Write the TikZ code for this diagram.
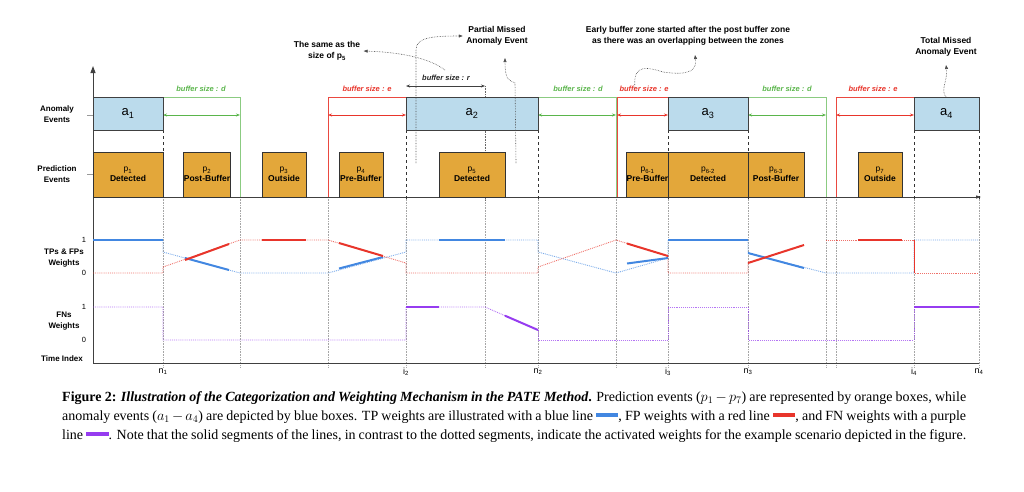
\documentclass[tikz,border=0pt]{standalone}
\usepackage{fontspec}
\setmainfont{Liberation Serif}
\newfontfamily\hv{Liberation Sans}
\usetikzlibrary{arrows.meta}
\definecolor{abox}{RGB}{187,219,236}
\definecolor{pbox}{RGB}{227,167,58}
\definecolor{tpc}{RGB}{66,135,225}
\definecolor{fpc}{RGB}{232,53,43}
\definecolor{fnc}{RGB}{150,60,240}
\definecolor{grn}{RGB}{90,181,75}
\newcommand{\sbs}[1]{\textsubscript{#1}}
\begin{document}
\begin{tikzpicture}[x=1pt,y=-1pt,
 an/.style={draw=black!75,line width=0.9pt,fill=abox,font=\hv\fontsize{13}{14}\selectfont},
 pr/.style={draw=black!80,line width=0.9pt,fill=pbox,font=\hv\bfseries\fontsize{8.5}{10}\selectfont,align=center},
 lab/.style={font=\hv\bfseries\fontsize{8}{11}\selectfont,align=center},
 note/.style={font=\hv\bfseries\fontsize{8.5}{11.5}\selectfont,align=center},
 buf/.style={font=\hv\bfseries\itshape\fontsize{7.5}{8}\selectfont},
 grid/.style={gray!70,densely dotted,line width=0.6pt},
 dsh/.style={black!80,dashed,line width=0.9pt},
 act/.style={line width=2pt},
 ina/.style={densely dotted,line width=0.9pt,opacity=0.7},
 dar/.style={densely dotted,black!70,line width=0.6pt,-{Triangle[length=4pt,width=3pt]}}]
\useasboundingbox (0,0) rectangle (1024,491);
% grid lines
\foreach \x in {163,240,328,406,485,538,616,668,748,826,836,914,979}
  \draw[grid] (\x,197) -- (\x,368);
% axes
\draw[black!75,line width=1pt,-{Triangle[length=7pt,width=5pt]}] (93,363) -- (93,66);
\draw[black!75,line width=1pt] (93,363) -- (979,363);
\draw[black!75,line width=1pt,-{Triangle[length=5pt,width=3pt]}] (93,197) -- (981,197);
% dashed verticals
\foreach \x/\a/\b in {163/130/152,406/130/200,538/130/200,668/130/200,748/130/200,914/130/200,979/130/200}
  \draw[dsh] (\x,\a) -- (\x,\b);
\draw[black!60,densely dotted,line width=0.6pt] (485,86) -- (485,200);
% buffer zones
\draw[grn!70,line width=0.8pt] (163,97) -- (240,97) -- (240,197);
\draw[grn!70,line width=0.8pt] (538,97) -- (616,97) -- (616,197);
\draw[grn!70,line width=0.8pt] (748,97) -- (826,97) -- (826,197);
\draw[fpc!90,line width=0.8pt] (406,97) -- (328,97) -- (328,197);
\draw[fpc!90,line width=0.8pt] (668,97) -- (617,97) -- (617,197);
\draw[fpc!90,line width=0.8pt] (914,97) -- (836,97) -- (836,197);
\foreach \a/\b in {163/240,538/616,748/826}
  \draw[grn,line width=0.9pt,{Stealth[length=4pt]}-{Stealth[length=4pt]}] (\a,115) -- (\b,115);
\foreach \a/\b in {328/406,617/668,836/914}
  \draw[fpc,line width=0.9pt,{Stealth[length=4pt]}-{Stealth[length=4pt]}] (\a,115) -- (\b,115);
\draw[black!75,line width=0.9pt,{Stealth[length=4pt]}-{Stealth[length=4pt]}] (406,86) -- (485,86);
\node[buf,text=grn] (bd1) at (201,89) {buffer size : d};
\node[buf,text=fpc] (be1) at (367,89) {buffer size : e};
\node[buf,text=black!85] (br) at (446,78) {buffer size : r};
\node[buf,text=grn] (bd2) at (578,89) {buffer size : d};
\node[buf,text=fpc] (be2) at (644,89) {buffer size : e};
\node[buf,text=grn] (bd3) at (787,89) {buffer size : d};
\node[buf,text=fpc] (be3) at (873,89) {buffer size : e};
% anomaly boxes
\node[an,minimum width=70pt,minimum height=33pt] (a1) at (128,113.5) {a\sbs{1}};
\node[an,minimum width=132pt,minimum height=33pt] (a2) at (472,113.5) {a\sbs{2}};
\node[an,minimum width=80pt,minimum height=33pt] (a3) at (708,113.5) {a\sbs{3}};
\node[an,minimum width=65pt,minimum height=33pt] (a4) at (946.5,113.5) {a\sbs{4}};
% prediction boxes
\node[pr,minimum width=70pt,minimum height=45pt] (p1) at (128,174.5) {{\mdseries p\sbs{1}}\\Detected};
\node[pr,minimum width=44pt,minimum height=45pt,inner sep=0pt] (p2) at (207,174.5) {{\mdseries p\sbs{2}}\\Post-Buffer};
\node[pr,minimum width=44pt,minimum height=45pt] (p3) at (284,174.5) {{\mdseries p\sbs{3}}\\Outside};
\node[pr,minimum width=44pt,minimum height=45pt,inner sep=0pt] (p4) at (361,174.5) {{\mdseries p\sbs{4}}\\Pre-Buffer};
\node[pr,minimum width=66pt,minimum height=45pt] (p5) at (472,174.5) {{\mdseries p\sbs{5}}\\Detected};
\node[pr,minimum width=41pt,minimum height=45pt,inner sep=0pt] (p61) at (647.5,174.5) {{\mdseries p\sbs{6-1}}\\Pre-Buffer};
\node[pr,minimum width=80pt,minimum height=45pt] (p62) at (708,174.5) {{\mdseries p\sbs{6-2}}\\Detected};
\node[pr,minimum width=56pt,minimum height=45pt,inner sep=0pt] (p63) at (776,174.5) {{\mdseries p\sbs{6-3}}\\Post-Buffer};
\node[pr,minimum width=44pt,minimum height=45pt] (p7) at (880,174.5) {{\mdseries p\sbs{7}}\\Outside};
% left labels
\node[lab] (lae) at (57,114) {Anomaly\\Events};
\node[lab] (lpe) at (57,174) {Prediction\\Events};
\node[lab] (ltp) at (64,258) {TPs \& FPs\\Weights};
\node[lab] (lfn) at (64,321) {FNs\\Weights};
\node[lab] (lti) at (62,359) {Time Index};
\draw[black!40] (87,115) -- (93,115) (87,174) -- (93,174);
\foreach \y/\t in {240/1,273/0,307/1,340/0}
  \node[font=\hv\fontsize{7.5}{8}\selectfont] (t\y) at (84,\y) {\t};
% time labels
\foreach \x/\l/\s in {163/n/1,406/i/2,538/n/2,668/i/3,748/n/3,914/i/4,979/n/4}
  \node[font=\hv\fontsize{9}{10}\selectfont] at (\x,372) {\l\sbs{\s}};
% TP blue
\draw[tpc,ina] (163,240) -- (163,252) -- (240,273) -- (328,273) -- (406,252) -- (406,240) -- (538,240) -- (538,252) -- (616,273) -- (668,258) -- (668,240);
\draw[tpc,ina] (748,240) -- (748,253) -- (826,273) -- (914,273) -- (914,240) -- (979,240);
\draw[tpc,act] (93,240) -- (163,240);
\draw[tpc,act] (185,258) -- (229,270);
\draw[tpc,act] (339,268.5) -- (383,257);
\draw[tpc,act] (439,240) -- (505,240);
\draw[tpc,act] (627,263.5) -- (668,258);
\draw[tpc,act] (668,240) -- (748,240);
\draw[tpc,act] (748,253) -- (804,268);
% FP red
\draw[fpc,ina] (93,273) -- (163,273) -- (163,267) -- (240,240) -- (328,240) -- (406,263) -- (406,273) -- (538,273) -- (538,267) -- (616,240) -- (668,256) -- (668,273) -- (748,273) -- (748,263);
\draw[fpc,ina] (826,240) -- (914,240) -- (914,273) -- (979,273);
\draw[fpc,act] (185,260) -- (229,244);
\draw[fpc,act] (262,240) -- (306,240);
\draw[fpc,act] (339,243) -- (383,256);
\draw[fpc,act] (627,243.5) -- (668,256);
\draw[fpc,act] (748,263) -- (804,245);
\draw[fpc,act] (858,240) -- (902,240);
\draw[fpc,line width=1pt] (914,240) -- (914,273);
% FN purple
\draw[fnc,ina] (93,307) -- (163,307) -- (163,340) -- (406,340) -- (406,307) -- (485,307) -- (505,315.7);
\draw[fnc,ina] (538,330) -- (538,340) -- (668,340) -- (668,307) -- (748,307) -- (748,340) -- (914,340) -- (914,307);
\draw[fnc,act] (406,307) -- (439,307);
\draw[fnc,act] (505,315.7) -- (538,330);
\draw[fnc,act] (914,307) -- (979,307);
% annotations
\node[note] (n5) at (327,51) {The same as the\\size of p\sbs{5}};
\node[note] (npm) at (497,36) {Partial Missed\\Anomaly Event};
\node[note] (neb) at (688,36) {Early buffer zone started after the post buffer zone\\as there was an overlapping between the zones};
\node[note] (ntm) at (946,47) {Total Missed\\Anomaly Event};
\coordinate (c1) at (445,70);
\coordinate (c2) at (416,163);
\coordinate (c3) at (516,163);
\coordinate (c4) at (635,88);
\coordinate (c5) at (946,97);
\draw[dar] (c1) .. controls (425,55) and (390,52) .. (n5.east);
\draw[dar] (c2) -- (416,50) .. controls (416,38) and (430,36) .. (npm.west);
\draw[dar] (c3) -- (515,83) .. controls (510,80) and (505,82) .. (505,58);
\draw[dar] (c4) .. controls (632,62) and (650,68) .. (663,72) .. controls (690,76) and (697,70) .. (695,55);
\draw[dar] (c5) .. controls (940,90) and (948,80) .. (946,65);
% caption
\node[anchor=north west,text width=904pt,align=justify,inner sep=0pt,font=\fontsize{14}{19.2}\selectfont] (cap) at (62,391)
{\textbf{Figure 2: \textit{Illustration of the Categorization and Weighting Mechanism in the PATE Method}.} Prediction events ($p_1 - p_7$) are represented by orange boxes, while anomaly events ($a_1 - a_4$) are depicted by blue boxes. TP weights are illustrated with a blue line {\color{tpc}\rule[0.25em]{1.6em}{0.3em}}, FP weights with a red line {\color{fpc}\rule[0.25em]{1.6em}{0.3em}}, and FN weights with a purple line {\color{fnc}\rule[0.25em]{1.6em}{0.3em}}. Note that the solid segments of the lines, in contrast to the dotted segments, indicate the activated weights for the example scenario depicted in the figure.};
\end{tikzpicture}
\end{document}
